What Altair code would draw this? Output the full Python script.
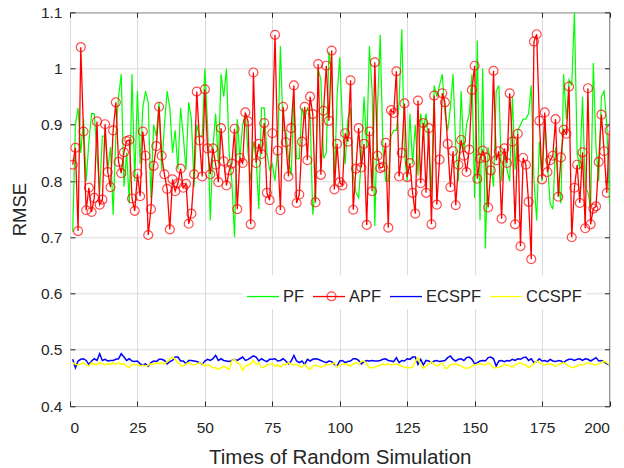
import altair as alt
import pandas as pd

# ---------------- data ----------------
sim = list(range(1, 201))

pf = [
    0.71, 0.90, 0.93, 0.85, 0.91, 0.80, 0.87, 0.92, 0.92, 0.85,
    0.78, 0.88, 0.88, 0.82, 0.86, 0.74, 0.88, 0.95, 0.99, 0.79,
    0.85, 0.76, 0.99, 0.80, 0.96, 0.83, 0.93, 0.96, 0.94, 0.77,
    0.90, 0.88, 0.94, 0.82, 0.90, 0.96, 0.93, 0.85, 0.89, 0.82,
    0.93, 0.88, 0.82, 0.94, 0.91, 0.79, 0.90, 0.88, 0.88, 1.00,
    0.90, 0.73, 0.86, 0.92, 0.83, 0.99, 0.95, 1.00, 0.85, 0.80,
    0.70, 0.91, 0.84, 0.90, 0.92, 0.85, 0.80, 0.87, 0.84, 0.75,
    0.93, 0.93, 0.85, 0.82, 0.83, 0.80, 0.86, 1.04, 0.89, 0.89,
    0.84, 0.81, 0.95, 0.84, 0.84, 0.93, 0.91, 0.93, 0.92, 0.74,
    0.79, 1.00, 0.98, 0.84, 0.85, 1.03, 0.99, 0.79, 0.95, 1.02,
    0.90, 0.83, 0.91, 0.93, 0.81, 0.78, 0.77, 0.84, 0.95, 0.86,
    1.04, 0.96, 0.72, 0.93, 1.06, 0.86, 0.80, 0.80, 0.88, 0.89,
    0.89, 0.94, 1.07, 0.85, 0.80, 0.92, 0.83, 0.90, 0.81, 0.92,
    0.89, 0.92, 0.86, 0.78, 0.97, 0.95, 0.97, 0.99, 0.92, 0.89,
    0.93, 0.99, 0.86, 0.80, 0.96, 0.85, 0.90, 0.92, 0.99, 0.77,
    1.05, 0.73, 1.00, 0.68, 0.86, 0.83, 0.79, 0.96, 0.97, 0.80,
    0.85, 0.82, 0.80, 0.95, 0.82, 0.89, 0.90, 0.91, 0.91, 0.92,
    0.97, 0.80, 0.73, 0.87, 0.80, 0.91, 0.83, 0.76, 0.75, 0.86,
    0.80, 0.76, 0.99, 0.91, 0.98, 0.97, 1.10, 0.85, 0.82, 0.95,
    0.79, 0.78, 0.75, 1.01, 0.86, 0.80, 0.95, 0.96, 0.90, 0.76,
]

apf = [
    0.829, 0.859, 0.711, 1.038, 0.888, 0.748, 0.788, 0.745, 0.770, 0.906,
    0.758, 0.767, 0.901, 0.816, 0.789, 0.890, 0.940, 0.834, 0.814, 0.851,
    0.871, 0.873, 0.769, 0.747, 0.813, 0.773, 0.888, 0.845, 0.704, 0.750,
    0.827, 0.862, 0.932, 0.845, 0.812, 0.786, 0.714, 0.803, 0.782, 0.796,
    0.822, 0.788, 0.795, 0.724, 0.742, 0.812, 0.959, 0.872, 0.808, 0.963,
    0.858, 0.812, 0.858, 0.829, 0.798, 0.894, 0.835, 0.792, 0.819, 0.831,
    0.893, 0.750, 0.841, 0.832, 0.922, 0.906, 0.723, 0.993, 0.832, 0.866,
    0.848, 0.903, 0.779, 0.766, 0.885, 1.060, 0.854, 0.748, 0.932, 0.869,
    0.808, 0.894, 0.970, 0.761, 0.776, 0.870, 0.932, 0.837, 0.950, 0.919,
    0.762, 1.008, 0.811, 0.925, 1.005, 0.907, 1.032, 0.785, 0.866, 0.798,
    0.792, 0.885, 0.870, 0.979, 0.749, 0.822, 0.894, 0.824, 0.866, 0.722,
    0.888, 0.782, 1.011, 0.845, 0.823, 0.825, 0.868, 0.717, 0.926, 0.921,
    0.995, 0.808, 0.850, 0.938, 0.807, 0.832, 0.779, 0.742, 0.943, 0.796,
    0.903, 0.779, 0.894, 0.723, 0.952, 0.758, 0.838, 0.956, 0.940, 0.866,
    0.789, 0.853, 0.757, 0.829, 0.873, 0.845, 0.816, 0.856, 0.962, 1.005,
    0.804, 0.840, 0.854, 0.842, 0.753, 0.819, 0.996, 0.837, 0.853, 0.733,
    0.858, 0.832, 0.956, 0.870, 0.723, 0.884, 0.684, 0.841, 0.829, 0.763,
    0.661, 1.048, 1.061, 0.907, 0.803, 0.922, 0.816, 0.837, 0.845, 0.910,
    0.772, 0.842, 0.891, 0.884, 0.968, 0.700, 0.788, 0.829, 0.761, 0.851,
    0.716, 0.965, 0.723, 0.751, 0.755, 0.834, 0.918, 0.853, 0.779, 0.890,
]

ecspf = [
    0.483, 0.468, 0.480, 0.483, 0.484, 0.481, 0.474, 0.480, 0.484, 0.481,
    0.493, 0.481, 0.483, 0.480, 0.481, 0.481, 0.483, 0.484, 0.493, 0.487,
    0.481, 0.484, 0.480, 0.479, 0.480, 0.475, 0.473, 0.475, 0.471, 0.477,
    0.480, 0.479, 0.483, 0.483, 0.481, 0.475, 0.479, 0.481, 0.487, 0.487,
    0.480, 0.480, 0.475, 0.481, 0.481, 0.480, 0.479, 0.477, 0.474, 0.480,
    0.483, 0.481, 0.484, 0.490, 0.481, 0.484, 0.481, 0.480, 0.479, 0.481,
    0.483, 0.481, 0.484, 0.487, 0.481, 0.483, 0.486, 0.489, 0.487, 0.480,
    0.484, 0.481, 0.479, 0.483, 0.483, 0.484, 0.480, 0.481, 0.484, 0.480,
    0.475, 0.480, 0.490, 0.480, 0.477, 0.480, 0.474, 0.483, 0.480, 0.483,
    0.484, 0.483, 0.481, 0.479, 0.477, 0.480, 0.479, 0.474, 0.471, 0.480,
    0.481, 0.477, 0.479, 0.480, 0.484, 0.484, 0.481, 0.475, 0.479, 0.481,
    0.480, 0.481, 0.480, 0.480, 0.481, 0.483, 0.484, 0.481, 0.480, 0.479,
    0.486, 0.477, 0.481, 0.480, 0.484, 0.483, 0.487, 0.487, 0.474, 0.483,
    0.473, 0.481, 0.480, 0.477, 0.480, 0.481, 0.479, 0.480, 0.481, 0.486,
    0.489, 0.483, 0.480, 0.483, 0.484, 0.481, 0.486, 0.487, 0.483, 0.475,
    0.477, 0.480, 0.481, 0.480, 0.486, 0.487, 0.484, 0.471, 0.480, 0.481,
    0.479, 0.481, 0.480, 0.483, 0.481, 0.484, 0.483, 0.486, 0.487, 0.481,
    0.484, 0.477, 0.479, 0.484, 0.480, 0.481, 0.479, 0.483, 0.480, 0.479,
    0.481, 0.480, 0.477, 0.481, 0.483, 0.483, 0.481, 0.483, 0.484, 0.481,
    0.484, 0.483, 0.480, 0.483, 0.486, 0.480, 0.481, 0.479, 0.475, 0.473,
]

ccspf = [
    0.477, 0.474, 0.473, 0.475, 0.477, 0.473, 0.471, 0.477, 0.474, 0.474,
    0.477, 0.475, 0.473, 0.475, 0.474, 0.477, 0.474, 0.477, 0.474, 0.475,
    0.471, 0.468, 0.475, 0.473, 0.474, 0.471, 0.473, 0.471, 0.473, 0.475,
    0.474, 0.477, 0.475, 0.477, 0.475, 0.479, 0.483, 0.487, 0.483, 0.477,
    0.473, 0.471, 0.475, 0.477, 0.474, 0.473, 0.475, 0.477, 0.475, 0.471,
    0.474, 0.471, 0.468, 0.468, 0.465, 0.468, 0.471, 0.468, 0.465, 0.480,
    0.483, 0.477, 0.474, 0.463, 0.471, 0.473, 0.475, 0.481, 0.474, 0.477,
    0.468, 0.469, 0.473, 0.474, 0.475, 0.471, 0.473, 0.469, 0.474, 0.473,
    0.477, 0.475, 0.473, 0.474, 0.471, 0.469, 0.474, 0.468, 0.465, 0.471,
    0.473, 0.471, 0.469, 0.471, 0.474, 0.473, 0.475, 0.477, 0.469, 0.473,
    0.474, 0.475, 0.473, 0.471, 0.475, 0.477, 0.475, 0.479, 0.480, 0.475,
    0.468, 0.468, 0.469, 0.471, 0.473, 0.474, 0.473, 0.475, 0.473, 0.474,
    0.475, 0.473, 0.471, 0.469, 0.468, 0.468, 0.469, 0.479, 0.486, 0.473,
    0.467, 0.471, 0.475, 0.479, 0.474, 0.471, 0.474, 0.477, 0.468, 0.467,
    0.474, 0.474, 0.475, 0.473, 0.471, 0.468, 0.467, 0.468, 0.471, 0.473,
    0.474, 0.475, 0.474, 0.473, 0.477, 0.473, 0.468, 0.468, 0.469, 0.471,
    0.474, 0.473, 0.471, 0.469, 0.473, 0.475, 0.477, 0.474, 0.473, 0.468,
    0.471, 0.475, 0.480, 0.477, 0.475, 0.473, 0.474, 0.475, 0.473, 0.471,
    0.474, 0.475, 0.477, 0.474, 0.471, 0.468, 0.469, 0.471, 0.474, 0.473,
    0.475, 0.477, 0.475, 0.474, 0.473, 0.475, 0.477, 0.480, 0.477, 0.473,
]

series_names = ["PF", "APF", "ECSPF", "CCSPF"]
series_colors = ["#00ff00", "#ff0000", "#0000ff", "#ffff00"]
x_ticks = [0, 25, 50, 75, 100, 125, 150, 175, 200]
y_ticks = [0.4, 0.5, 0.6, 0.7, 0.8, 0.9, 1.0, 1.1]

rows = []
for name, vals in zip(series_names, [pf, apf, ecspf, ccspf]):
    for t, v in zip(sim, vals):
        rows.append({"sim": t, "rmse": v, "series": name})
df = pd.DataFrame(rows)

# ---------------- styling ----------------
FONT = "Liberation Sans"
INK = "#262626"
W, H = 539.5, 393.7
LEG_X, LEG_Y = 172, 263
MARKER = 80

xs = alt.Scale(domain=[0, 200], nice=False, zero=False)
ys = alt.Scale(domain=[0.4, 1.1], nice=False, zero=False)
cs = alt.Scale(domain=series_names, range=series_colors)


def build(with_marker_legend):
    main_legend = alt.Legend(
        title=None, orient="none", legendX=LEG_X, legendY=LEG_Y,
        direction="horizontal", fillColor="white", padding=4,
        symbolType="stroke", symbolSize=1024, symbolStrokeWidth=1.3,
        labelFontSize=16.5, labelColor=INK, labelFont=FONT,
        labelOffset=3, columnPadding=5,
    )
    # marker-only legend laid over the APF entry of the main legend
    marker_legend = alt.Legend(
        title=None, orient="none", legendX=LEG_X + 84, legendY=LEG_Y + 20 - 4.5,
        padding=0, symbolSize=MARKER, symbolStrokeWidth=1.2,
        symbolStrokeColor="#ff0000", symbolFillColor="transparent",
        labelExpr="''", labelFontSize=1, labelOffset=0,
    )

    main_x = alt.Axis(values=x_ticks, grid=True, gridColor="#dcdcdc", ticks=False,
                      domain=False, labelPadding=14, labelFontSize=15.5,
                      title="Times of Random Simulation", titleFontSize=20.5,
                      titleFontWeight="normal", titleBaseline="alphabetic", titleY=57)
    main_y = alt.Axis(values=y_ticks, format=".1~f", grid=True, gridColor="#dcdcdc",
                      ticks=False, domain=False, labelPadding=8, labelFontSize=15.5,
                      title="RMSE", titleFontSize=18.5, titleFontWeight="normal",
                      titleBaseline="alphabetic", titleX=-45)
    tick_common = dict(labels=False, domain=False, grid=False, ticks=True,
                       tickSize=5, tickColor=INK, tickWidth=1, title=None)

    base = alt.Chart(df)

    pf_line = base.transform_filter("datum.series === 'PF'").mark_line(
        strokeWidth=1.2, clip=True
    ).encode(
        x=alt.X("sim:Q", scale=xs, axis=main_x),
        y=alt.Y("rmse:Q", scale=ys, axis=main_y),
        color=alt.Color("series:N", scale=cs, legend=main_legend),
    )

    apf_line = base.transform_filter("datum.series === 'APF'").mark_line(
        strokeWidth=1.3, clip=True
    ).encode(
        x=alt.X("sim:Q", scale=xs,
                axis=alt.Axis(orient="top", offset=-H, values=x_ticks, **tick_common)),
        y=alt.Y("rmse:Q", scale=ys,
                axis=alt.Axis(orient="right", offset=-W, values=y_ticks, **tick_common)),
        color=alt.Color("series:N", scale=cs, legend=None),
    )

    pts_enc = dict(
        x=alt.X("sim:Q", scale=xs,
                axis=alt.Axis(orient="bottom", offset=-H, values=x_ticks, **tick_common)),
        y=alt.Y("rmse:Q", scale=ys,
                axis=alt.Axis(orient="left", offset=-W, values=y_ticks, **tick_common)),
        color=alt.Color("series:N", scale=cs, legend=None),
    )
    if with_marker_legend:
        pts_enc["shape"] = alt.Shape(
            "series:N", scale=alt.Scale(domain=["APF"], range=["circle"]),
            legend=marker_legend,
        )
    apf_pts = base.transform_filter("datum.series === 'APF'").mark_point(
        shape="circle", filled=False, size=MARKER, strokeWidth=1.2, clip=True
    ).encode(**pts_enc)

    ec_line = base.transform_filter("datum.series === 'ECSPF'").mark_line(
        strokeWidth=1.5, clip=True
    ).encode(
        x=alt.X("sim:Q", scale=xs, axis=None),
        y=alt.Y("rmse:Q", scale=ys, axis=None),
        color=alt.Color("series:N", scale=cs, legend=None),
    )

    cc_line = base.transform_filter("datum.series === 'CCSPF'").mark_line(
        strokeWidth=1.5, clip=True
    ).encode(
        x=alt.X("sim:Q", scale=xs, axis=None),
        y=alt.Y("rmse:Q", scale=ys, axis=None),
        color=alt.Color("series:N", scale=cs, legend=None),
    )

    chart = alt.layer(pf_line, apf_line, apf_pts, ec_line, cc_line).resolve_axis(
        x="independent", y="independent"
    ).properties(
        width=W, height=H,
        autosize=alt.AutoSizeParams(type="none"),
        padding={"left": 70, "top": 12.3, "right": 14.5, "bottom": 62},
        background="white",
    ).configure_view(
        stroke=INK, strokeWidth=1
    ).configure_axis(
        labelFont=FONT, titleFont=FONT, labelColor=INK, titleColor=INK,
    ).configure_legend(
        labelFont=FONT,
    )
    return chart


for flag in (True, False):
    try:
        chart = build(flag)
        chart.save("out.html", embed_options={"renderer": "svg", "actions": False})
        break
    except Exception:
        continue
